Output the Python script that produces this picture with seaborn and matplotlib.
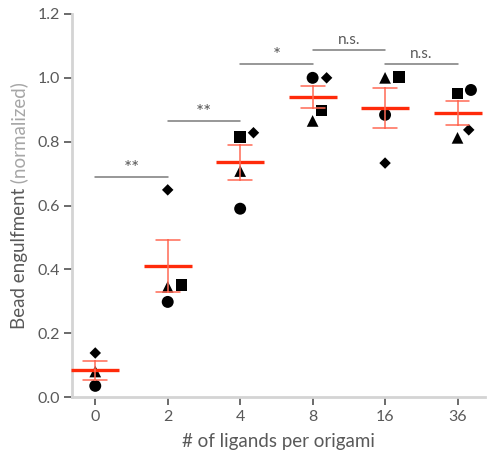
import numpy as np
import pandas as pd
import seaborn as sns
import matplotlib.pyplot as plt
from matplotlib.collections import PathCollection
from matplotlib.markers import MarkerStyle
from matplotlib.transforms import Affine2D

# ---------------- data ----------------
ligands = ["0", "2", "4", "8", "16", "36"]
circle = [0.035, 0.298, 0.590, 1.000, 0.884, 0.962]
triangle = [0.080, 0.345, 0.708, 0.865, 1.000, 0.812]
square = [np.nan, 0.351, 0.815, 0.897, 1.003, 0.950]
diamond = [0.138, 0.649, 0.828, 1.000, 0.733, 0.837]

y_ticks = [0.0, 0.2, 0.4, 0.6, 0.8, 1.0, 1.2]
sig_pairs = [("0", "2"), ("2", "4"), ("4", "8"), ("8", "16"), ("16", "36")]
sig_heights = [0.69, 0.865, 1.044, 1.088, 1.044]
sig_labels = ["**", "**", "*", "n.s.", "n.s."]

x_label = "# of ligands per origami"
y_label_main = "Bead engulfment"
y_label_note = "(normalized)"

replicates = {"circle": circle, "triangle": triangle, "square": square, "diamond": diamond}
rows = []
for rep, vals in replicates.items():
    for lig, v in zip(ligands, vals):
        if not np.isnan(v):
            rows.append({"ligands": lig, "value": v, "replicate": rep})
df = pd.DataFrame(rows)

# ---------------- style ----------------
sns.set_style("ticks")
plt.rcParams["font.family"] = ["Lato", "DejaVu Sans"]

RED = "#ff2a0a"
ERR_RED = "#ff6a55"
TXT = "#595959"
SPINE = "#d4d4d4"

fig = plt.figure(figsize=(4.87, 4.59), dpi=100)
ax = fig.add_axes([0.148, 0.135, 0.848, 0.8345])

# replicate points (swarm layout)
sns.swarmplot(data=df, x="ligands", y="value", order=ligands, color="black",
              size=8.6, linewidth=0, ax=ax, zorder=3)


def marker_path(m, k):
    ms = MarkerStyle(m)
    return ms.get_path().transformed(ms.get_transform() + Affine2D().scale(k))


shape_paths = {
    "circle": marker_path("o", 1.0),
    "triangle": marker_path("^", 0.98),
    "square": marker_path("s", 0.95),
    "diamond": marker_path("D", 0.68),
}
swarm_colls = []
for coll in ax.collections:
    offs = coll.get_offsets()
    if len(offs) == 0:
        continue
    idx = int(round(float(offs[0, 0])))
    sub = df[df["ligands"] == ligands[idx]]
    coll.set_paths([shape_paths[r] for r in sub["replicate"]])
    coll.set_edgecolor("none")
    coll.set_linewidth(1.0)
    swarm_colls.append((coll, idx))

# mean +/- SEM
n_lines_before = len(ax.lines)
sns.pointplot(data=df, x="ligands", y="value", order=ligands, errorbar="se",
              color=RED, markers="_", markersize=35, markeredgewidth=2.4,
              linestyle="none", capsize=0.33,
              err_kws={"linewidth": 1.1, "color": ERR_RED}, ax=ax)
for ln in ax.lines[n_lines_before:]:
    ln.set_zorder(4)
    ln.set_clip_on(False)

# significance brackets
for (a, b), h, lab in zip(sig_pairs, sig_heights, sig_labels):
    xa, xb = ligands.index(a), ligands.index(b)
    ax.plot([xa, xb], [h, h], color="#7a7a7a", lw=1.1, clip_on=False, zorder=2)
    star = lab.startswith("*")
    ax.text((xa + xb) / 2, h + (0.0 if star else 0.008), lab, ha="center", va="bottom",
            color=TXT, fontsize=13.5 if star else 11)

# axes styling
ax.set_xlim(-0.32, 5.38)
ax.set_ylim(0, 1.2)
ax.set_yticks(y_ticks)
ax.set_yticklabels([f"{t:.1f}" for t in y_ticks])
sns.despine(ax=ax)
for s in ("left", "bottom"):
    ax.spines[s].set_color(SPINE)
    ax.spines[s].set_linewidth(2.0)
ax.tick_params(axis="both", colors=TXT, labelsize=11.5, length=6, width=1.3, pad=3)
ax.tick_params(axis="both", color="#5f5f5f")
ax.set_xlabel(x_label, fontsize=13.5, color=TXT, labelpad=7)
ax.set_ylabel("")

# two-tone y label
t1 = ax.text(-0.127, 0.5, y_label_main, transform=ax.transAxes, rotation=90,
             rotation_mode="anchor", ha="right", va="center", fontsize=13.5, color=TXT)
t2 = ax.text(-0.127, 0.5, " " + y_label_note, transform=ax.transAxes, rotation=90,
             rotation_mode="anchor", ha="left", va="center", fontsize=13.5, color="#a6a6a6")
fig.canvas.draw()
r = fig.canvas.get_renderer()
h1 = t1.get_window_extent(r).height
h2 = t2.get_window_extent(r).height
ax_h = ax.get_window_extent(r).height
split = 0.5 + (h1 - (h1 + h2) / 2) / ax_h
t1.set_y(split)
t2.set_y(split)

# seaborn's swarm layout has now been computed; mirror it about each category
# centre (the reference places the displaced replicate on the other side) and
# freeze it.
for coll, idx in swarm_colls:
    offs = np.asarray(coll.get_offsets()).copy()
    offs[:, 0] = 2 * idx - offs[:, 0]
    if "draw" in coll.__dict__:
        del coll.draw
    coll.set_offsets(offs)

ax.set_xlim(-0.32, 5.38)
ax.set_ylim(0, 1.2)
fig.savefig("out.png", dpi=100)
